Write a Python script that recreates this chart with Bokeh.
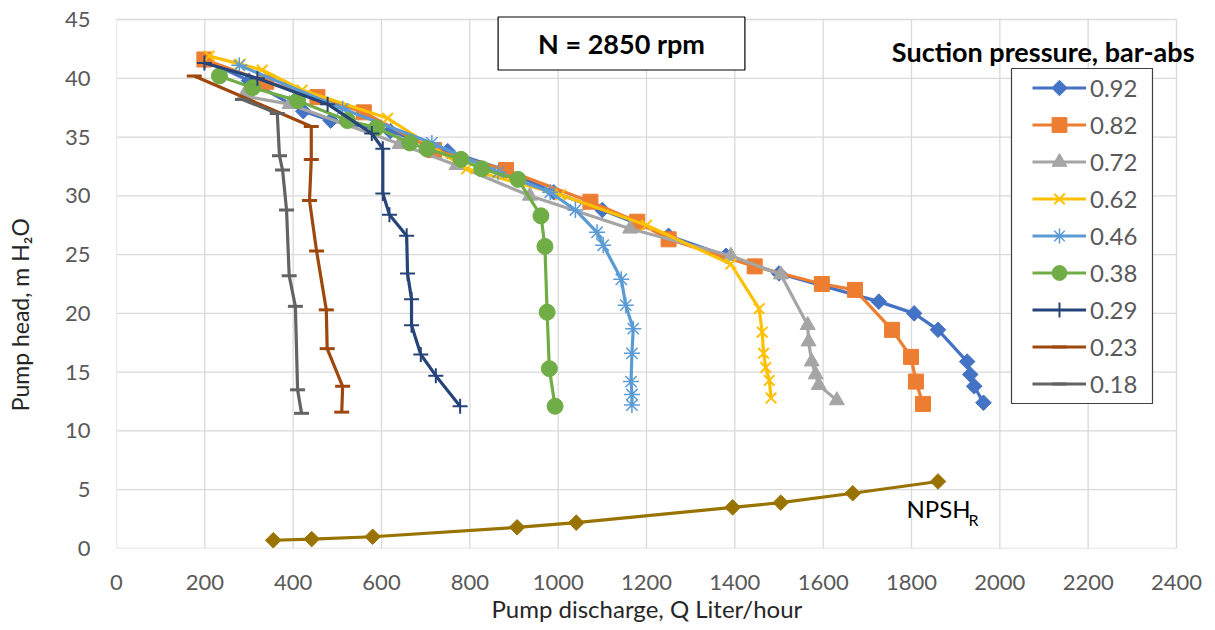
from bokeh.plotting import figure
from bokeh.models import Range1d, Legend, LegendItem, Label, FixedTicker, Title
from bokeh.embed import file_html
from bokeh.resources import INLINE
import math

# ---------------- data ----------------
series_names = ["0.92", "0.82", "0.72", "0.62", "0.46", "0.38", "0.29", "0.23", "0.18"]

q_092 = [200, 300, 423, 485, 620, 750, 880, 990, 1100, 1250, 1380, 1500, 1726, 1806, 1860, 1926, 1933, 1942, 1963]
h_092 = [41.5, 39.8, 37.2, 36.4, 35.5, 33.8, 32.2, 30.3, 28.8, 26.6, 24.9, 23.4, 21.0, 20.0, 18.6, 15.9, 14.8, 13.8, 12.4]

q_082 = [199, 339, 455, 560, 719, 882, 1073, 1179, 1250, 1445, 1597, 1672, 1756, 1799, 1810, 1826]
h_082 = [41.6, 39.7, 38.4, 37.1, 33.9, 32.2, 29.5, 27.8, 26.3, 24.0, 22.5, 22.0, 18.6, 16.3, 14.2, 12.3]

q_072 = [288, 392, 641, 770, 936, 1163, 1391, 1504, 1565, 1567, 1574, 1583, 1590, 1631]
h_072 = [38.5, 37.8, 34.4, 32.6, 30.0, 27.2, 24.9, 23.3, 19.0, 17.6, 15.9, 14.8, 13.9, 12.6]

q_062 = [210, 280, 330, 420, 614, 793, 1005, 1200, 1391, 1455, 1462, 1465, 1470, 1478, 1482]
h_062 = [41.9, 41.2, 40.7, 39.0, 36.6, 32.3, 30.1, 27.5, 24.2, 20.4, 18.4, 16.6, 15.4, 14.3, 12.8]

q_046 = [278, 512, 714, 864, 982, 1039, 1088, 1102, 1143, 1153, 1170, 1167, 1165, 1167, 1167]
h_046 = [41.1, 37.4, 34.5, 32.0, 30.3, 28.8, 26.9, 25.8, 22.9, 20.7, 18.7, 16.6, 14.2, 13.1, 12.2]

q_038 = [233, 308, 410, 523, 589, 664, 703, 780, 827, 909, 961, 970, 975, 980, 993]
h_038 = [40.2, 39.2, 38.1, 36.4, 35.8, 34.5, 34.0, 33.1, 32.3, 31.4, 28.3, 25.7, 20.1, 15.3, 12.1]

q_029 = [199, 319, 478, 578, 603, 603, 618, 657, 659, 668, 668, 689, 723, 778]
h_029 = [41.3, 40.0, 37.8, 35.3, 34.0, 30.2, 28.4, 26.6, 23.4, 21.2, 19.0, 16.5, 14.7, 12.1]

q_023 = [176, 441, 441, 437, 453, 475, 477, 512, 510]
h_023 = [40.2, 35.9, 33.1, 29.6, 25.3, 20.3, 17.0, 13.8, 11.6]

q_018 = [285, 364, 369, 376, 385, 391, 405, 410, 419]
h_018 = [38.2, 37.0, 33.4, 32.2, 28.8, 23.2, 20.6, 13.5, 11.5]

q_npsh = [355, 442, 580, 907, 1041, 1395, 1504, 1667, 1860]
h_npsh = [0.7, 0.8, 1.0, 1.8, 2.2, 3.5, 3.9, 4.7, 5.7]

x_ticks = list(range(0, 2401, 200))
y_ticks = list(range(0, 46, 5))

# ---------------- layout (page pixels) ----------------
FONT = "Lato"
W, H = 1215, 630
PX_X0, PX_X1 = 116, 1176      # pixel of x = 0 and x = 2400
PX_Y0, PX_Y1 = 548, 19        # pixel of y = 0 and y = 45
XMAX_AX, YMAX_AX = x_ticks[-1], y_ticks[-1]
BL, BT, BR = PX_X0, 0, 0
BB = H - PX_Y0
sx = XMAX_AX / (PX_X1 - PX_X0)
sy = YMAX_AX / (PX_Y0 - PX_Y1)
X_END = (W - BR - PX_X0) * sx
Y_END = (PX_Y0 - BT) * sy

def dx(px):
    return (px - PX_X0) * sx

def dy(py):
    return (PX_Y0 - py) * sy

p = figure(width=W, height=H, output_backend="svg", toolbar_location=None,
           x_range=Range1d(0, X_END), y_range=Range1d(0, Y_END),
           min_border_left=BL, min_border_right=BR, min_border_top=BT, min_border_bottom=BB)
p.outline_line_color = None
p.background_fill_color = "white"
p.border_fill_color = "white"
p.xgrid.visible = False
p.ygrid.visible = False

for ax in (p.xaxis[0], p.yaxis[0]):
    ax.axis_line_color = None
    ax.major_tick_line_color = None
    ax.minor_tick_line_color = None
    ax.major_tick_out = 0
    ax.major_tick_in = 0
    ax.major_label_text_font = FONT
    ax.major_label_text_font_size = "22px"
    ax.major_label_text_color = "#595959"

p.xaxis.ticker = FixedTicker(ticks=x_ticks)
p.yaxis.ticker = FixedTicker(ticks=y_ticks)
p.xaxis.bounds = (0, XMAX_AX)
p.xaxis.major_label_standoff = 26
p.yaxis.major_label_standoff = 26

# x title: side-panel title, placed like the reference
p.add_layout(Title(text="Pump discharge, Q Liter/hour", align="left", offset=375,
                   vertical_align="middle", standoff=0,
                   text_font=FONT, text_font_size="24px", text_font_style="normal",
                   text_color="#262626"), "below")

# y title: axis label (trailing em/en spaces move the visible text down a little)
p.yaxis.axis_label = "Pump head, m H\u2082O\u2003\u2003\u2003\u2003\u2002"
p.yaxis.axis_label_standoff = 28
p.yaxis.axis_label_text_font = FONT
p.yaxis.axis_label_text_font_size = "23px"
p.yaxis.axis_label_text_font_style = "normal"
p.yaxis.axis_label_text_color = "#262626"

# grid lines (from tick lists)
p.segment(x0=x_ticks, y0=[0] * len(x_ticks), x1=x_ticks, y1=[YMAX_AX] * len(x_ticks),
          line_color="#D9D9D9", line_width=1.3)
p.segment(x0=[0] * len(y_ticks), y0=y_ticks, x1=[XMAX_AX] * len(y_ticks), y1=y_ticks,
          line_color="#D9D9D9", line_width=1.3)

# legend frame (white box over the grid)
LEG_L, LEG_R, LEG_T, LEG_B = 1011, 1152, 68, 403
p.quad(left=[dx(LEG_L)], right=[dx(LEG_R)], top=[dy(LEG_T)], bottom=[dy(LEG_B)],
       fill_color="white", line_color="#404040", line_width=1.2)

# ---------------- series ----------------
styles = [
    (q_092, h_092, "#4472C4", "square", 11, math.pi / 4, 1),
    (q_082, h_082, "#ED7D31", "square", 15, 0, 1),
    (q_072, h_072, "#A5A5A5", "triangle", 15, 0, 1),
    (q_062, h_062, "#FFC000", "x", 15, 0, 2),
    (q_046, h_046, "#5B9BD5", "asterisk", 16, 0, 1.5),
    (q_038, h_038, "#70AD47", "circle", 16, 0, 1),
    (q_029, h_029, "#264478", "cross", 15, 0, 2),
    (q_023, h_023, "#9E480E", "dash", 15, 0, 3),
    (q_018, h_018, "#636363", "dash", 15, 0, 3),
]

LEG_ITEM_H = 37
LEG_TOP = 69
GLYPH_X0, GLYPH_W = 1032, 54

items = []
for i, (name, (qs, hs, col, mk, sz, ang, lw)) in enumerate(zip(series_names, styles)):
    ln = p.line(qs, hs, line_color=col, line_width=3.2)
    sc = p.scatter(qs, hs, marker=mk, size=sz, angle=ang, fill_color=col,
                   line_color=col, line_width=lw)
    if ang != 0:
        # legend swatch for rotated markers (the legend draws markers unrotated)
        p.scatter([dx(GLYPH_X0 + GLYPH_W / 2)], [dy(LEG_TOP + LEG_ITEM_H * (i + 0.5))],
                  marker=mk, size=sz, angle=ang, fill_color=col, line_color=col)
        items.append(LegendItem(label=name, renderers=[ln]))
    else:
        items.append(LegendItem(label=name, renderers=[ln, sc]))

# NPSH_R curve
p.line(q_npsh, h_npsh, line_color="#997300", line_width=3.2)
p.scatter(q_npsh, h_npsh, marker="square", size=11, angle=math.pi / 4,
          fill_color="#997300", line_color="#997300")

# ---------------- legend ----------------
legend = Legend(items=items,
                location=(GLYPH_X0 - PX_X0, PX_Y0 - (LEG_TOP + LEG_ITEM_H * len(items))),
                orientation="vertical", padding=0, spacing=0, margin=0,
                glyph_width=GLYPH_W, glyph_height=LEG_ITEM_H, label_standoff=4,
                label_text_font=FONT, label_text_font_size="24px",
                label_text_color="#595959",
                border_line_color=None, background_fill_alpha=0)
p.add_layout(legend)

p.add_layout(Label(x=dx(1194), y=dy(51), text="Suction pressure, bar-abs",
                   text_font=FONT, text_font_size="27px", text_font_style="bold",
                   text_color="black", text_align="right", text_baseline="middle"))

# ---------------- title box ----------------
p.add_layout(Label(x=dx(621), y=dy(43), text="N = 2850 rpm",
                   text_font=FONT, text_font_size="27px", text_font_style="bold",
                   text_color="black", text_align="center", text_baseline="middle",
                   border_line_color="black", border_line_width=1.2,
                   background_fill_color="white",
                   padding=dict(x=40, y=10)))

# ---------------- NPSH_R label ----------------
p.add_layout(Label(x=dx(906), y=dy(508), text="NPSH",
                   text_font=FONT, text_font_size="24px", text_color="black",
                   text_align="left", text_baseline="middle"))
p.add_layout(Label(x=dx(968), y=dy(519), text="R",
                   text_font=FONT, text_font_size="16px", text_color="black",
                   text_align="left", text_baseline="middle"))

open("out.html", "w").write(file_html(p, INLINE))
